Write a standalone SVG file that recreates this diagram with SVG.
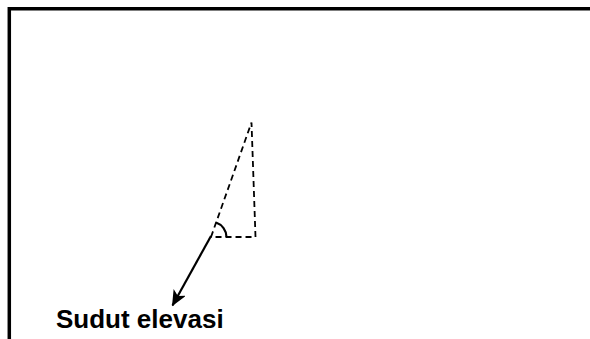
<svg xmlns="http://www.w3.org/2000/svg" width="590" height="339" viewBox="0 0 590 339">
<style>
.frame{fill:none;stroke:#000;stroke-width:3.5}
.dash{fill:none;stroke:#000;stroke-width:1.8;stroke-dasharray:6,4}
.solid{fill:none;stroke:#000;stroke-width:2.2}
.lbl{font-family:"Liberation Sans",Arial,sans-serif;font-weight:bold;font-size:26px;fill:#000}
</style>
<defs>
<marker id="ah" viewBox="0 0 16 14" refX="15" refY="7" markerWidth="16" markerHeight="14" orient="auto" markerUnits="userSpaceOnUse">
<path d="M0,0 L16,7 L0,14 L4,7 z" fill="#000"/>
</marker>
</defs>
<rect width="590" height="339" fill="#fff"/>
<path class="frame" d="M9.3,339 V8.7 H592"/>
<g id="triangle">
<path class="dash" d="M211,237 L251.5,122.5 L255.5,237 Z"/>
<path class="solid" d="M216,222.5 A15.5,15.5 0 0 1 226.5,237" stroke-width="2"/>
</g>
<g id="connectors">
<path class="solid" d="M211,236 L172.5,305.5" marker-end="url(#ah)"/>
</g>
<g id="label">
<text class="lbl" x="56" y="328">Sudut elevasi</text>
</g>
</svg>
